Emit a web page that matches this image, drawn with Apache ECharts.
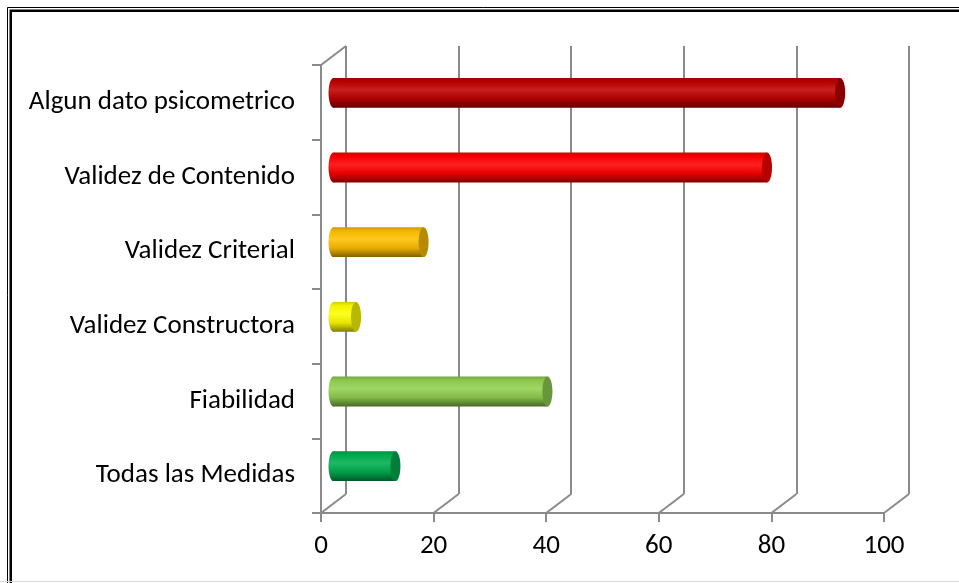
<!DOCTYPE html>
<html>
<head>
<meta charset="utf-8">
<script src="https://cdn.jsdelivr.net/npm/echarts@6/dist/echarts.min.js"></script>
<style>html,body{margin:0;padding:0;background:#fff;}#c{width:959px;height:583px;}</style>
</head>
<body>
<div id="c"></div>
<script>
// ---- data ----
var categories = ['Todas las Medidas', 'Fiabilidad', 'Validez Constructora', 'Validez Criterial', 'Validez de Contenido', 'Algun dato psicometrico'];
var values = [11, 38, 4, 16, 77, 90];
var barColors = ['#00B050', '#92D050', '#FFFF00', '#FFC000', '#FF0000', '#C00000'];
var xTicks = [0, 20, 40, 60, 80, 100];

// ---- helpers ----
function hexToRgb(h) { h = h.replace('#', ''); return [parseInt(h.substr(0,2),16), parseInt(h.substr(2,2),16), parseInt(h.substr(4,2),16)]; }
function shade(h, f) { var c = hexToRgb(h); return 'rgb(' + c.map(function (v) { return Math.round(v * f); }).join(',') + ')'; }
function lighten(h, f) { var c = hexToRgb(h); return 'rgb(' + c.map(function (v) { return Math.round(v + (255 - v) * f); }).join(',') + ')'; }

var DX = 25, DY = -19; // depth offset of the back wall
var FONT = "'Carlito','Open Sans',sans-serif";
var GRID_COLOR = '#8a8a8a';
var GW = 2;

var chart = echarts.init(document.getElementById('c'), null, { renderer: 'canvas' });

var option = {
  backgroundColor: '#ffffff',
  animation: false,
  grid: [
    { left: 321, right: 75, top: 65, bottom: 70 },
    { left: 321 + DX, right: 75 - DX, top: 65 + DY, bottom: 70 - DY }
  ],
  xAxis: [
    {
      gridIndex: 0, type: 'value', min: 0, max: 100, interval: 20,
      axisLine: { show: true, lineStyle: { color: GRID_COLOR, width: GW } },
      axisTick: { show: true, length: 9, lineStyle: { color: GRID_COLOR, width: GW } },
      splitLine: { show: false },
      axisLabel: { color: '#000', fontSize: 27, fontFamily: FONT, margin: 20 }
    },
    {
      gridIndex: 1, type: 'value', min: 0, max: 100, interval: 20,
      axisLine: { show: false }, axisTick: { show: false }, axisLabel: { show: false },
      splitLine: { show: true, lineStyle: { color: GRID_COLOR, width: GW } }
    }
  ],
  yAxis: [
    {
      gridIndex: 0, type: 'category', data: categories,
      axisLine: { show: true, lineStyle: { color: GRID_COLOR, width: GW } },
      axisTick: { show: true, length: 9, lineStyle: { color: GRID_COLOR, width: GW } },
      axisLabel: { color: '#000', fontSize: 27, fontFamily: FONT, margin: 26, padding: [4, 0, 0, 0] },
      splitLine: { show: false }
    },
    {
      gridIndex: 1, type: 'category', data: categories,
      axisLine: { show: false }, axisTick: { show: false }, axisLabel: { show: false }, splitLine: { show: false }
    }
  ],
  graphic: [
    { type: 'rect', shape: { x: 7.5, y: 7.5, width: 970, height: 600 }, style: { fill: 'none', stroke: '#000', lineWidth: 1 }, z: 100 },
    { type: 'rect', shape: { x: 10.75, y: 10.75, width: 970, height: 600 }, style: { fill: 'none', stroke: '#000', lineWidth: 2.5 }, z: 100 },
    { type: 'line', shape: { x1: 0, y1: 581.5, x2: 959, y2: 581.5 }, style: { stroke: '#d9d9d9', lineWidth: 1 }, z: 100 }
  ],
  series: [
    {
      // floor / side-wall depth edges
      type: 'custom', xAxisIndex: 0, yAxisIndex: 0, z: 3, silent: true,
      data: xTicks.map(function (v) { return [v]; }),
      encode: { x: 0 },
      renderItem: function (params, api) {
        var cs = params.coordSys;
        var x = api.coord([api.value(0), 0])[0];
        var yb = cs.y + cs.height;
        var children = [{
          type: 'line',
          shape: { x1: x, y1: yb, x2: x + DX, y2: yb + DY },
          style: { stroke: GRID_COLOR, lineWidth: GW }
        }];
        if (params.dataIndex === 0) {
          children.push({
            type: 'line',
            shape: { x1: cs.x, y1: cs.y, x2: cs.x + DX, y2: cs.y + DY },
            style: { stroke: GRID_COLOR, lineWidth: GW }
          });
        }
        return { type: 'group', children: children };
      }
    },
    {
      // cylinders
      type: 'custom', xAxisIndex: 0, yAxisIndex: 0, z: 5, silent: true,
      data: values.map(function (v, i) { return [v, i]; }),
      encode: { x: 0, y: 1 },
      renderItem: function (params, api) {
        var i = params.dataIndex;
        var base = barColors[i];
        var pEnd = api.coord([api.value(0), api.value(1)]);
        var pStart = api.coord([0, api.value(1)]);
        var band = api.size([0, 1])[1];
        var h = band * 0.4;
        var cy = pEnd[1] + DY / 2;
        var x0 = pStart[0] + DX / 2;
        var x1 = pEnd[0] + DX / 2;
        var rx = 5, ry = h / 2;
        var grad = new echarts.graphic.LinearGradient(0, 0, 0, 1, [
          { offset: 0, color: shade(base, 0.8) },
          { offset: 0.12, color: shade(base, 0.95) },
          { offset: 0.4, color: lighten(base, 0.12) },
          { offset: 0.7, color: shade(base, 0.9) },
          { offset: 1, color: shade(base, 0.5) }
        ]);
        return {
          type: 'group',
          children: [
            { type: 'ellipse', shape: { cx: x0, cy: cy, rx: rx, ry: ry }, style: { fill: grad } },
            { type: 'rect', shape: { x: x0, y: cy - ry, width: Math.max(0, x1 - x0), height: h }, style: { fill: grad } },
            { type: 'ellipse', shape: { cx: x1, cy: cy, rx: rx, ry: ry }, style: { fill: shade(base, 0.72) } }
          ]
        };
      }
    }
  ]
};
chart.setOption(option);
</script>
</body>
</html>
